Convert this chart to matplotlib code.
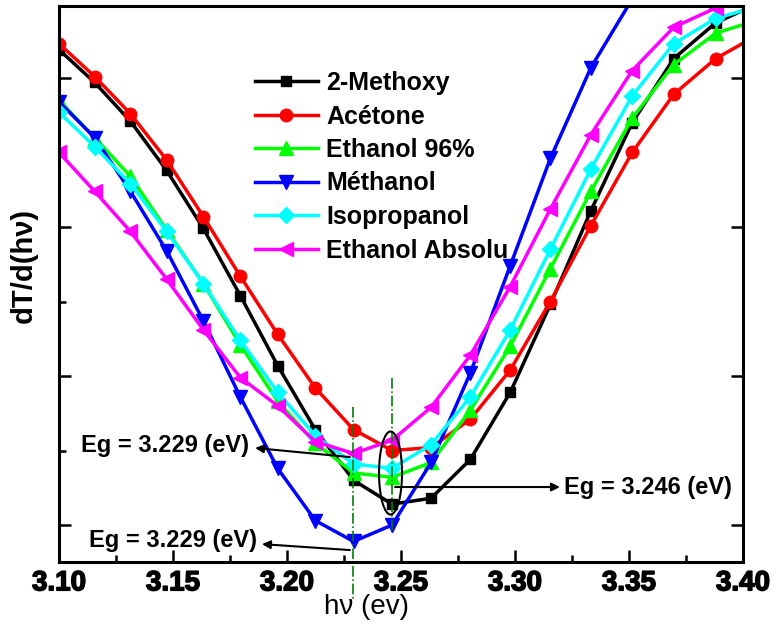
import matplotlib
matplotlib.use("Agg")
import matplotlib.pyplot as plt
from matplotlib import font_manager
import matplotlib.patheffects as pe
from matplotlib.patches import Ellipse

# photon energies (eV) of the measured points
energy = [3.1000, 3.1156, 3.1313, 3.1472, 3.1633, 3.1795, 3.1959, 3.2124, 3.2292, 3.2461,
          3.2632, 3.2804, 3.2979, 3.3155, 3.3333, 3.3514, 3.3696, 3.3880, 3.4066]

# dT/d(hv), arbitrary units
methoxy = [4.19, 3.97, 3.71, 3.38, 2.99, 2.54, 2.07, 1.64, 1.30, 1.14,
           1.18, 1.44, 1.89, 2.48, 3.11, 3.70, 4.13, 4.37, 4.50]
acetone = [4.23, 4.01, 3.76, 3.45, 3.07, 2.67, 2.28, 1.92, 1.64, 1.50,
           1.52, 1.71, 2.04, 2.50, 3.01, 3.50, 3.89, 4.13, 4.29]
ethanol96 = [3.85, 3.60, 3.34, 2.98, 2.62, 2.21, 1.83, 1.55, 1.35, 1.32,
             1.42, 1.77, 2.20, 2.72, 3.24, 3.73, 4.09, 4.30, 4.39]
methanol = [3.84, 3.60, 3.24, 2.84, 2.37, 1.86, 1.38, 1.03, 0.89, 1.00,
            1.42, 2.02, 2.74, 3.46, 4.07, 4.53, 4.93]
isopropanol = [3.77, 3.54, 3.29, 2.97, 2.62, 2.24, 1.89, 1.60, 1.41, 1.38,
               1.54, 1.86, 2.31, 2.85, 3.39, 3.88, 4.23, 4.40, 4.48]
ethanol_abs = [3.50, 3.24, 2.97, 2.65, 2.31, 1.99, 1.80, 1.56, 1.48, 1.57,
               1.79, 2.14, 2.60, 3.12, 3.62, 4.05, 4.34, 4.47, 4.56]

labels = ["2-Methoxy", "Acétone", "Ethanol 96%", "Méthanol", "Isopropanol", "Ethanol Absolu"]
series = [methoxy, acetone, ethanol96, methanol, isopropanol, ethanol_abs]
colors = ["#000000", "#ff0000", "#00ff00", "#0000ff", "#00ffff", "#ff00ff"]
markers = ["s", "o", "^", "v", "D", "<"]
msizes = [7.5, 9, 10, 10, 8, 10]

eg_low = 3.229
eg_high = 3.246

plt.rcParams['font.family'] = ['Liberation Sans', 'DejaVu Sans']

# condensed face for the axis numbers, if one is installed
names = {f.name for f in font_manager.fontManager.ttflist}
if 'Liberation Sans Narrow' in names:
    narrow = ['Liberation Sans Narrow', 'Liberation Sans', 'DejaVu Sans']
else:
    narrow = ['Liberation Sans', 'DejaVu Sans']
# the narrow face has no bold cut here: thicken it with a stroke
fake_bold = [pe.withStroke(linewidth=1.1, foreground='black')]

fig = plt.figure(figsize=(7.84, 6.27), dpi=100)
ax = fig.add_axes([0.0753, 0.1037, 0.8724, 0.8867])

for y, lab, c, m, ms in zip(series, labels, colors, markers, msizes):
    ax.plot(energy[:len(y)], y, color=c, marker=m, ms=ms, lw=2.5, label=lab,
            markeredgecolor=c)

ax.set_xlim(3.10, 3.40)
ax.set_ylim(0.752, 4.483)
ax.set_xticks([3.10, 3.15, 3.20, 3.25, 3.30, 3.35, 3.40])
ax.set_xticks([3.125, 3.175, 3.225, 3.275, 3.325, 3.375], minor=True)
ax.set_xticklabels(["3.10", "3.15", "3.20", "3.25", "3.30", "3.35", "3.40"],
                   fontweight='bold', fontsize=20, family=narrow)
for t in ax.get_xticklabels():
    t.set_path_effects(fake_bold)
ax.set_yticks([1, 2, 3, 4])
ax.set_yticks([1.5, 2.5, 3.5], minor=True)
ax.set_yticklabels([])
ax.tick_params(which='major', direction='in', length=8.6, width=1.8, right=True, pad=6)
ax.tick_params(which='minor', direction='in', length=5, width=1.8, right=False)
for s in ax.spines.values():
    s.set_linewidth(2.2)

ax.set_xlabel("h\u03bd (ev)", fontsize=20, family=narrow)
ax.xaxis.set_label_coords(0.45, -0.058)
ax.set_ylabel("dT/d(h\u03bd)", fontsize=21, fontweight='bold')
ax.yaxis.set_label_coords(-0.031, 0.534)

# band-gap markers
ax.plot([eg_low, eg_low], [1.79, 0.497], color='#008000', ls='-.', lw=1.2, clip_on=False)
ax.plot([eg_high, eg_high], [1.99, 0.953], color='#008000', ls='-.', lw=1.2)
ax.add_patch(Ellipse((3.2454, 1.349), 0.0101, 0.557, fill=False, ec='k', lw=1.5, zorder=5))

arrow = dict(arrowstyle='-|>', color='k', lw=1.5, mutation_scale=12, shrinkA=0, shrinkB=0)
ax.annotate("", xy=(3.186, 1.517), xytext=(3.2276, 1.456), arrowprops=arrow)
ax.annotate("", xy=(3.189, 0.872), xytext=(3.2276, 0.832), arrowprops=arrow)
ax.annotate("", xy=(3.3197, 1.255), xytext=(3.2474, 1.255), arrowprops=arrow)
ax.text(3.1465, 1.537, "Eg = 3.229 (eV)", fontsize=17, fontweight='bold', ha='center', va='center')
ax.text(3.150, 0.899, "Eg = 3.229 (eV)", fontsize=17, fontweight='bold', ha='center', va='center')
ax.text(3.3583, 1.255, "Eg = 3.246 (eV)", fontsize=17, fontweight='bold', ha='center', va='center')

ax.legend(loc='upper left', bbox_to_anchor=(255 / 784, 1 - 71 / 627), bbox_transform=fig.transFigure,
          frameon=False, prop={'weight': 'bold', 'size': 18}, handlelength=2.5,
          handletextpad=0.35, labelspacing=0.38, borderpad=0, borderaxespad=0)

fig.savefig("out.png", dpi=100)
